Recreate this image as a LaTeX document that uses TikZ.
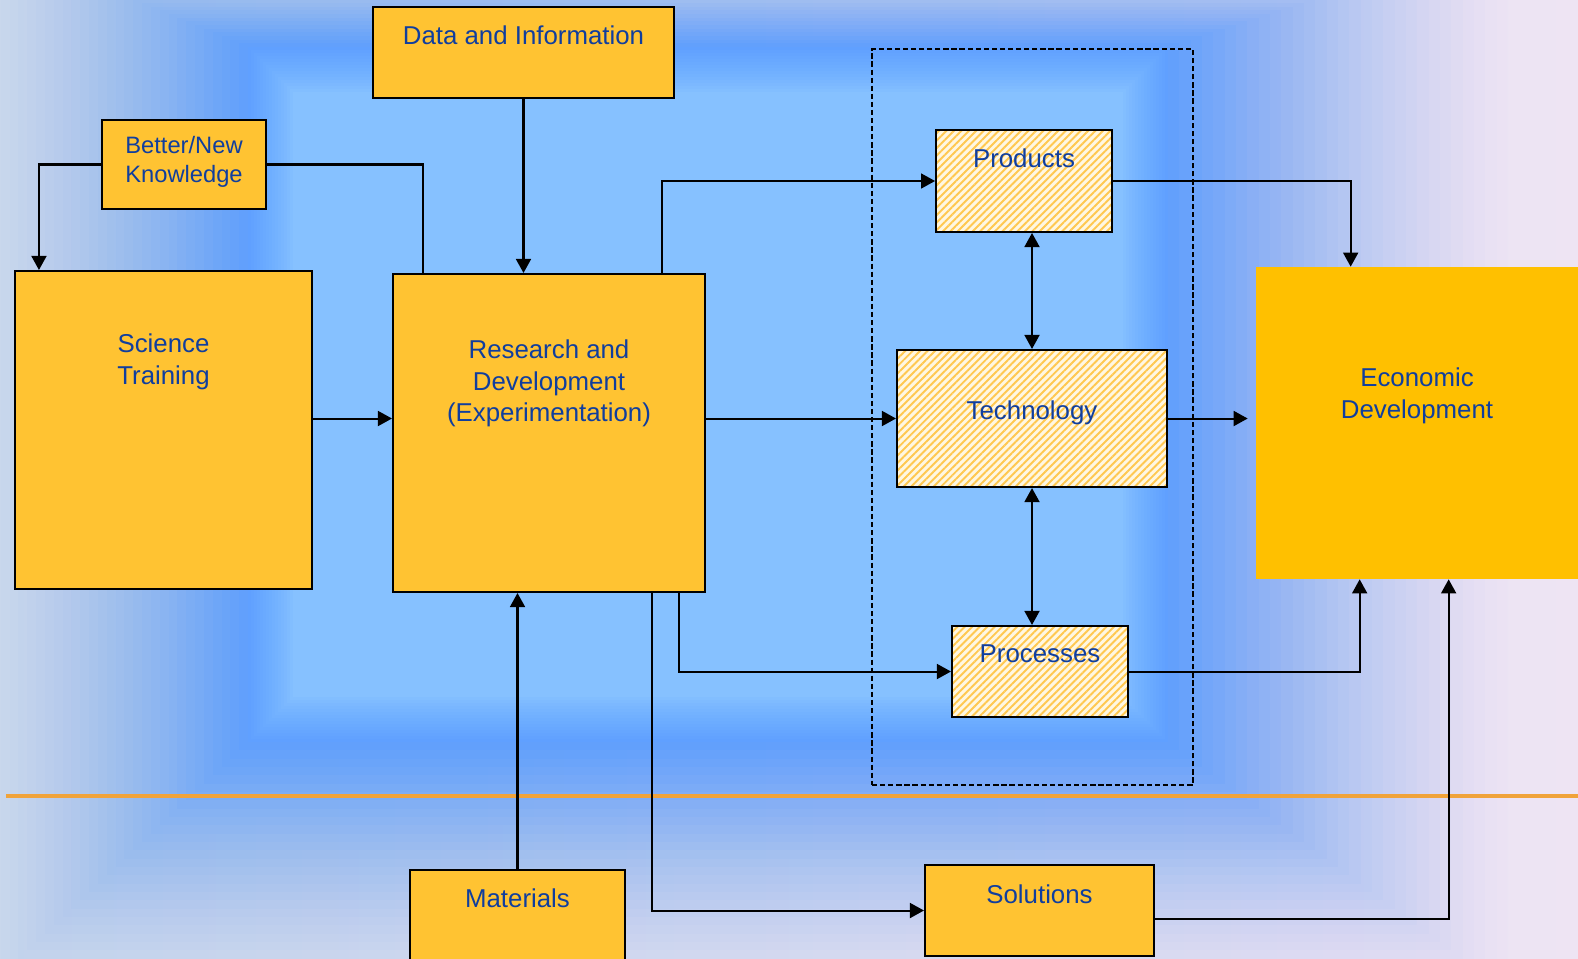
\documentclass[tikz,border=0pt]{standalone}
\usepackage{fontspec}
\setmainfont{Liberation Sans}
\usetikzlibrary{shapes,arrows.meta,patterns.meta}
\definecolor{boxgold}{RGB}{255,195,50}
\definecolor{econgold}{RGB}{255,192,0}
\definecolor{txtblue}{RGB}{16,62,158}
\definecolor{hatchbg}{RGB}{255,247,226}
\definecolor{hatchline}{RGB}{255,200,80}
\definecolor{bgleft}{RGB}{204,217,236}
\definecolor{bgright}{RGB}{238,228,243}
\definecolor{ringblue}{RGB}{94,158,255}
\definecolor{innerblue}{RGB}{134,193,255}
\definecolor{divider}{RGB}{240,163,58}
\tikzstyle{block} = [rectangle, draw, fill=boxgold, line width=1.2pt, inner sep=0pt]
\tikzstyle{hatched} = [rectangle, draw, line width=1.2pt, inner sep=0pt,
    preaction={fill=hatchbg}, pattern={Lines[angle=45,distance=3pt,line width=1.1pt]},
    pattern color=hatchline]
\tikzstyle{target} = [rectangle, fill=econgold, inner sep=0pt]
\tikzstyle{group} = [rectangle, draw, dash pattern=on 3pt off 1.6pt, line width=0.9pt, inner sep=0pt]
\tikzstyle{lbl} = [anchor=north, inner sep=0pt, text=txtblue, align=center,
    font=\fontsize{14.7}{18.2}\selectfont]
\tikzstyle{line} = [draw, line width=1.15pt, -{Triangle[length=8pt,width=8.5pt]}]
\tikzstyle{twoway} = [draw, line width=1.15pt,
    {Triangle[length=8pt,width=8.5pt]}-{Triangle[length=8pt,width=8.5pt]}]

\begin{document}
\begin{tikzpicture}[x=0.02cm, y=-0.02cm]
    \useasboundingbox (0,0) rectangle (1578,958);
    % Background
    \fill[left color=bgleft, right color=bgright] (0,0) rectangle (1578,958);
    \foreach \k in {0,...,30}{
        \pgfmathsetmacro{\fadefr}{(30-\k)/30}
        \pgfmathsetmacro{\cnow}{((\k+1)/31)*sqrt((\k+1)/31)}
        \pgfmathsetmacro{\cprev}{(\k/31)*sqrt(\k/31)}
        \pgfmathsetmacro{\fadeop}{min(1,(\cnow-\cprev)/(1-\cprev))}
        \fill[ringblue, opacity=\fadeop] (248-265*\fadefr, 47-110*\fadefr) rectangle (1168+340*\fadefr, 742+250*\fadefr);
    }
    \foreach \k in {0,...,15}{
        \pgfmathsetmacro{\fadein}{45*\k/15}
        \pgfmathsetmacro{\fadeop}{1/(16-\k)}
        \fill[innerblue, opacity=\fadeop] (248+\fadein, 47+\fadein) rectangle (1168-\fadein, 742-\fadein);
    }
    \draw[divider, line width=1.8pt] (6,796) -- (1578,796);

    % Place nodes
    \node [group, minimum width=6.42cm, minimum height=14.72cm] (system) at (1032.5,417) {};
    \node [block, minimum width=6.02cm, minimum height=1.82cm,
        label={[lbl, label distance=-0.38cm]north:Data and Information}] (data) at (523.5,52.5) {};
    \node [block, minimum width=3.28cm, minimum height=1.78cm,
        label={[lbl, font=\fontsize{13.5}{16.5}\selectfont, label distance=-0.34cm]north:Better/New\\Knowledge}] (knowledge) at (184,164.5) {};
    \node [block, minimum width=5.94cm, minimum height=6.36cm,
        label={[lbl, label distance=-1.26cm]north:Science\\Training}] (science) at (163.5,430) {};
    \node [block, minimum width=6.24cm, minimum height=6.36cm,
        label={[lbl, label distance=-1.32cm]north:Research and\\Development\\(Experimentation)}] (rnd) at (549,433) {};
    \node [hatched, minimum width=3.52cm, minimum height=2.04cm,
        label={[lbl, label distance=-0.38cm]north:Products}] (products) at (1024,181) {};
    \node [hatched, minimum width=5.4cm, minimum height=2.74cm,
        label={[lbl, label distance=-1.03cm]north:Technology}] (technology) at (1032,418.5) {};
    \node [hatched, minimum width=3.52cm, minimum height=1.82cm,
        label={[lbl, label distance=-0.38cm]north:Processes}] (processes) at (1040,671.5) {};
    \node [target, minimum width=6.44cm, minimum height=6.24cm,
        label={[lbl, label distance=-2.02cm]north:Economic\\Development}] (economic) at (1417,423) {};
    \node [block, minimum width=4.3cm, minimum height=1.9cm,
        label={[lbl, label distance=-0.38cm]north:Materials}] (materials) at (517.5,917.5) {};
    \node [block, minimum width=4.58cm, minimum height=1.82cm,
        label={[lbl, label distance=-0.4cm]north:Solutions}] (solutions) at (1039.5,910.5) {};

    % Draw edges
    \path [line] (knowledge.west) -| ([xshift=0.5cm]science.north west);
    \path [draw, line width=1.15pt] ([xshift=0.62cm]rnd.north west) |- (knowledge.east);
    \path [line] (data.south) -- (data.south |- rnd.north);
    \path [line] ([xshift=5.4cm]rnd.north west) |- (products.west);
    \path [line] (science.east |- technology.west) -- (rnd.west |- technology.west);
    \path [line] (rnd.east |- technology.west) -- (technology.west);
    \path [line, shorten >=0.16cm] (technology.east) -- (economic.west |- technology.east);
    \path [line] (products.east) -| ([xshift=1.9cm]economic.north west);
    \path [twoway] (technology.north |- products.south) -- (technology.north);
    \path [twoway] (technology.south) -- (technology.south |- processes.north);
    \path [line] ([xshift=5.74cm]rnd.south west) |- (processes.west);
    \path [line] (processes.east) -| ([xshift=2.08cm]economic.south west);
    \path [line] (materials.north) -- (materials.north |- rnd.south);
    \path [line] ([xshift=5.2cm]rnd.south west) |- (solutions.west);
    \path [line] ([yshift=-0.17cm]solutions.east) -| ([xshift=3.86cm]economic.south west);
\end{tikzpicture}
\end{document}
